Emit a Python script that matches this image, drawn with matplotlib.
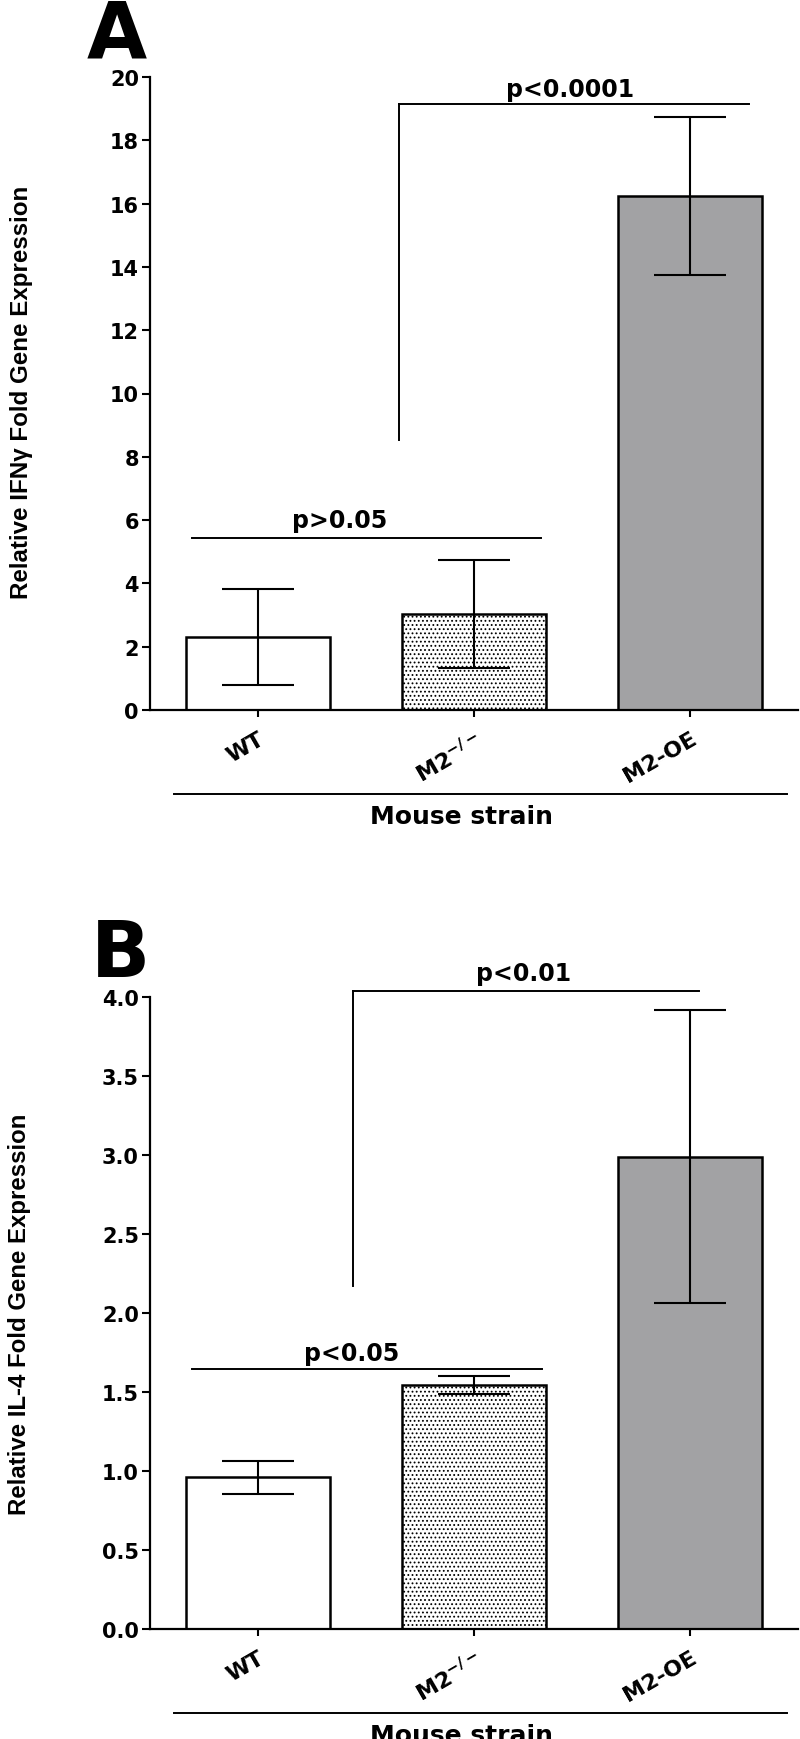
import matplotlib
matplotlib.use('Agg')
import matplotlib.pyplot as plt
from matplotlib import font_manager, transforms

# data
strains = ['WT', r'M2$^{-/-}$', 'M2-OE']
ifng_mean = [2.31, 3.03, 16.23]
ifng_err = [1.52, 1.70, 2.50]
il4_mean = [0.96, 1.545, 2.99]
il4_err = [0.105, 0.056, 0.925]

ifng_ticks = [0, 2, 4, 6, 8, 10, 12, 14, 16, 18, 20]
il4_ticks = [0.0, 0.5, 1.0, 1.5, 2.0, 2.5, 3.0, 3.5, 4.0]

bar_colors = ['white', 'white', '#a2a2a4']
bar_hatch = [None, '....', None]

plt.rcParams['font.family'] = 'DejaVu Sans'
plt.rcParams['font.weight'] = 'bold'
plt.rcParams['mathtext.default'] = 'bf'
plt.rcParams['hatch.linewidth'] = 0.8


def narrow_font():
    # y titles are very condensed in the original; take the narrowest regular face
    prefs = ['liberationsansnarrow-regular', 'notosans-extracondensed.',
             'notosans-extracondensedmedium', 'notosans-condensed.',
             'notosans-condensedmedium']
    files = [f.fname for f in font_manager.fontManager.ttflist]
    for p in prefs:
        for fn in files:
            if p in fn.lower():
                return font_manager.FontProperties(fname=fn)
    return font_manager.FontProperties(family='Liberation Sans')


W, H = 800, 1740
fig = plt.figure(figsize=(W / 100, H / 100), dpi=100)


def px_axes(left, top, right, bottom):
    return fig.add_axes([left / W, 1 - bottom / H, (right - left) / W, (bottom - top) / H])


def panel(ax, means, errs, ticks, fmt):
    x = range(len(means))
    ax.bar(x, means, width=0.667, color=bar_colors, edgecolor='black',
           linewidth=1.8, hatch=bar_hatch, zorder=2)
    ax.errorbar(x, means, yerr=errs, fmt='none', ecolor='black',
                elinewidth=1.5, capsize=26, capthick=1.5, zorder=3)
    ax.set_xlim(-0.5, 2.5)
    ax.set_ylim(0, ticks[-1])
    ax.set_yticks(ticks)
    ax.set_yticklabels([fmt.format(t) for t in ticks])
    ax.set_xticks(list(x))
    ax.set_xticklabels(strains, rotation=30, ha='right', va='top',
                       rotation_mode='anchor', fontsize=16)
    off = transforms.ScaledTranslation(8 / 100, 0, fig.dpi_scale_trans)
    for lab in ax.get_xticklabels():
        lab.set_transform(lab.get_transform() + off)
    ax.spines['top'].set_visible(False)
    ax.spines['right'].set_visible(False)
    for s in ['left', 'bottom']:
        ax.spines[s].set_linewidth(1.6)
    ax.tick_params(axis='y', length=6, width=1.5, labelsize=15, pad=2)
    ax.tick_params(axis='x', length=5, width=1.5, pad=8)
    # group line and axis title under the labels
    tr = transforms.blended_transform_factory(ax.transData, ax.transAxes)
    ax.plot([-0.39, 2.45], [-0.1325, -0.1325], color='black', lw=1.4,
            transform=tr, clip_on=False)
    ax.text(0.94, -0.148, 'Mouse strain', transform=tr, ha='center', va='top',
            fontsize=18, fontweight='bold')


def bracket(ax, x0, x1, y, label, tx, ty, y_low=None):
    ax.plot([x0, x1], [y, y], color='black', lw=1.4, clip_on=False)
    if y_low is not None:
        ax.plot([x0, x0], [y_low, y], color='black', lw=1.4, clip_on=False)
    ax.text(tx, ty, label, ha='center', va='baseline', fontsize=17,
            fontweight='bold')


def ylabel(text, xc, yc, length):
    t = fig.text(xc / W, 1 - yc / H, text, rotation=90, ha='center', va='center',
                 fontproperties=narrow_font(), fontsize=22)
    r = fig.canvas.get_renderer()
    h = t.get_window_extent(renderer=r).height
    t.set_fontsize(22 * length / h)
    return t


# panel A
axA = px_axes(150, 78, 798, 711)
panel(axA, ifng_mean, ifng_err, ifng_ticks, '{:d}')
bracket(axA, -0.306, 1.312, 5.42, 'p>0.05', 0.38, 5.79)
bracket(axA, 0.653, 2.273, 19.16, 'p<0.0001', 1.444, 19.41, y_low=8.53)
ylabel('Relative IFNγ Fold Gene Expression', 22, 392, 413)
fig.text(117 / W, 1 - 57 / H, r'$\mathbf{A}$', ha='center', va='baseline',
         fontsize=56)

# panel B
axB = px_axes(150, 998, 798, 1630)
panel(axB, il4_mean, il4_err, il4_ticks, '{:.1f}')
bracket(axB, -0.306, 1.313, 1.646, 'p<0.05', 0.435, 1.70)
bracket(axB, 0.438, 2.043, 4.04, 'p<0.01', 1.23, 4.106, y_low=2.17)
ylabel('Relative IL-4 Fold Gene Expression', 20, 1314, 402)
fig.text(118 / W, 1 - 977 / H, r'$\mathbf{B}$', ha='center', va='baseline',
         fontsize=56)

fig.savefig('out.png', dpi=100, facecolor='white')
